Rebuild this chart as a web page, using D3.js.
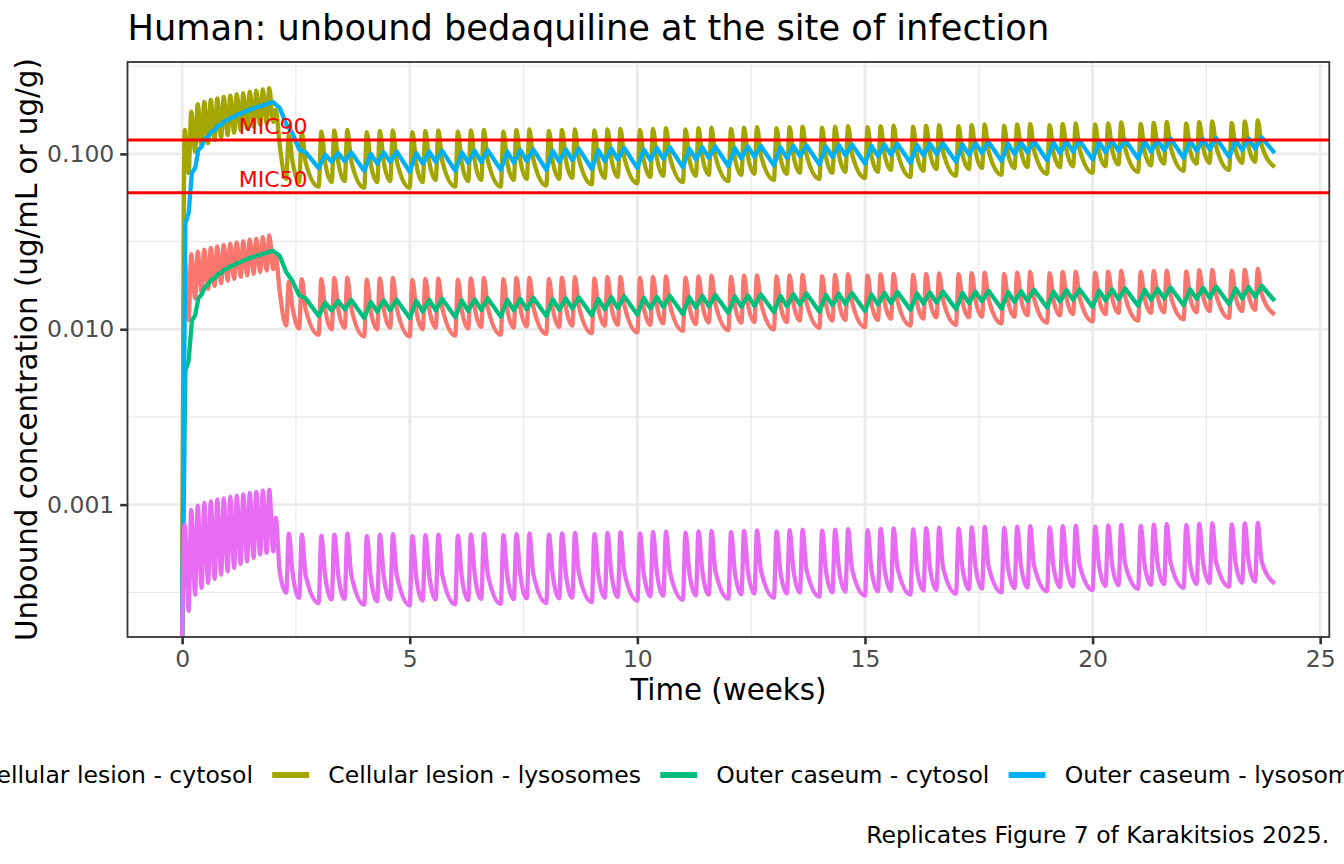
<!DOCTYPE html>
<html><head><meta charset="utf-8">
<script src="https://cdn.jsdelivr.net/npm/d3@7"></script>
<style>
body{margin:0;background:#fff;overflow:hidden}
svg{display:block}
text{font-family:"DejaVu Sans",sans-serif}
</style>
</head><body>
<svg id="chart" width="1344" height="864"></svg>
<script>
// ---------------- DATA ----------------
const seriesNames = ["Cellular lesion - cytosol","Cellular lesion - lysosomes","Outer caseum - cytosol","Outer caseum - lysosomes","Plasma"];
const seriesColors = ["#F8766D","#A3A500","#00BF7D","#00B0F6","#E76BF3"];
const xTickValues = [0,5,10,15,20,25];
const yTickValues = [0.001,0.01,0.1];
const micValues = [0.12, 0.06];
const micLabels = ["MIC90","MIC50"];
const micLabelWeek = 2;
const endDay = 168;
// dosing days: 14 daily loading doses, then Mon/Wed/Fri
const doseDays = [0,1,2,3,4,5,6,7,8,9,10,11,12,13,
 14,16,18, 21,23,25, 28,30,32, 35,37,39, 42,44,46, 49,51,53, 56,58,60, 63,65,67,
 70,72,74, 77,79,81, 84,86,88, 91,93,95, 98,100,102, 105,107,109, 112,114,116,
 119,121,123, 126,128,130, 133,135,137, 140,142,144, 147,149,151, 154,156,158, 161,163,165];
const loadingDoses = 14;
const peakLagFast = 0.4;   // days after dose (cytosol / lysosome / plasma)
const peakLagSlow = 1.0;   // days after dose (outer caseum, maintenance)
const peakLagLoad = 0.5;   // outer caseum during loading
const kneeLag = 1.0;

// Cellular lesion - cytosol
const rdTrough = [0,0.0113,0.0150,0.0162,0.0170,0.0177,0.0183,0.0189,0.0194,0.0199,0.0203,0.0207,0.0212,0.0216,
 0.0220,0.0105,0.0101, 0.0093,0.0100,0.0102, 0.0091,0.0100,0.0102, 0.0091,0.0100,0.0102,
 0.0092,0.0101,0.0103, 0.0093,0.0102,0.0104, 0.0094,0.0103,0.0105, 0.0095,0.0105,0.0106,
 0.0096,0.0106,0.0108, 0.0098,0.0107,0.0109, 0.0099,0.0109,0.0110, 0.0100,0.0110,0.0112,
 0.0102,0.0112,0.0113, 0.0103,0.0113,0.0115, 0.0105,0.0115,0.0117, 0.0106,0.0117,0.0118,
 0.0108,0.0118,0.0120, 0.0109,0.0120,0.0122, 0.0111,0.0122,0.0124, 0.0112,0.0124,0.0125,
 0.0114,0.0125,0.0127, 0.0116,0.0127,0.0129];
const rdPeak = [0.0245,0.0268,0.0277,0.0284,0.0290,0.0297,0.0303,0.0308,0.0313,0.0318,0.0324,0.0329,0.0335,0.0343,
 0.0262,0.0186,0.0193, 0.0193,0.0196,0.0197, 0.0192,0.0195,0.0196, 0.0191,0.0194,0.0195,
 0.0192,0.0195,0.0196, 0.0193,0.0196,0.0197, 0.0194,0.0197,0.0198, 0.0195,0.0198,0.0199,
 0.0196,0.0199,0.0200, 0.0197,0.0200,0.0202, 0.0199,0.0202,0.0203, 0.0200,0.0203,0.0204,
 0.0201,0.0204,0.0206, 0.0203,0.0206,0.0207, 0.0204,0.0207,0.0208, 0.0206,0.0209,0.0210,
 0.0207,0.0210,0.0212, 0.0209,0.0212,0.0213, 0.0210,0.0213,0.0215, 0.0212,0.0215,0.0216,
 0.0214,0.0217,0.0218, 0.0216,0.0219,0.0221];
const rdKnee = [0.0165,0.0131,0.0130, 0.0129,0.0131,0.0132, 0.0128,0.0131,0.0132, 0.0128,0.0131,0.0132,
 0.0129,0.0132,0.0133, 0.0130,0.0133,0.0134, 0.0131,0.0134,0.0135, 0.0132,0.0135,0.0137,
 0.0133,0.0137,0.0138, 0.0135,0.0138,0.0139, 0.0136,0.0139,0.0141, 0.0137,0.0141,0.0142,
 0.0139,0.0142,0.0144, 0.0140,0.0144,0.0145, 0.0142,0.0145,0.0147, 0.0143,0.0147,0.0149,
 0.0145,0.0149,0.0150, 0.0146,0.0150,0.0152, 0.0148,0.0152,0.0154, 0.0150,0.0154,0.0155,
 0.0151,0.0155,0.0157, 0.0153,0.0157,0.0159];
const rdEnd = 0.0121;

// Cellular lesion - lysosomes
const olTrough = [0,0.0776,0.103,0.110,0.115,0.120,0.124,0.128,0.132,0.136,0.139,0.143,0.146,0.149,
 0.152,0.072,0.069, 0.065,0.069,0.070, 0.064,0.069,0.070, 0.064,0.069,0.071,
 0.065,0.070,0.071, 0.065,0.071,0.072, 0.066,0.072,0.073, 0.067,0.073,0.074,
 0.068,0.074,0.075, 0.069,0.075,0.076, 0.070,0.076,0.077, 0.071,0.077,0.078,
 0.072,0.078,0.079, 0.073,0.079,0.081, 0.074,0.080,0.082, 0.075,0.082,0.083,
 0.076,0.083,0.084, 0.077,0.084,0.085, 0.078,0.085,0.087, 0.079,0.086,0.088,
 0.080,0.088,0.089, 0.081,0.089,0.090];
const olPeak = [0.137,0.174,0.192,0.198,0.203,0.207,0.211,0.215,0.219,0.222,0.226,0.229,0.233,0.237,
 0.178,0.128,0.133, 0.134,0.136,0.137, 0.133,0.135,0.136, 0.133,0.135,0.136,
 0.134,0.136,0.137, 0.134,0.137,0.138, 0.135,0.137,0.138, 0.136,0.138,0.139,
 0.137,0.139,0.140, 0.138,0.140,0.141, 0.139,0.141,0.142, 0.140,0.142,0.143,
 0.141,0.143,0.144, 0.142,0.144,0.145, 0.143,0.145,0.146, 0.144,0.146,0.147,
 0.145,0.147,0.148, 0.146,0.148,0.149, 0.147,0.149,0.151, 0.148,0.150,0.152,
 0.149,0.152,0.153, 0.150,0.153,0.155];
const olKnee = [0.112,0.089,0.089, 0.089,0.090,0.091, 0.088,0.090,0.091, 0.088,0.090,0.091,
 0.089,0.091,0.092, 0.089,0.092,0.093, 0.090,0.093,0.094, 0.091,0.094,0.095,
 0.092,0.095,0.096, 0.093,0.096,0.097, 0.094,0.097,0.098, 0.095,0.098,0.099,
 0.096,0.099,0.100, 0.097,0.100,0.102, 0.098,0.101,0.103, 0.099,0.103,0.104,
 0.100,0.104,0.105, 0.101,0.105,0.106, 0.102,0.106,0.108, 0.103,0.107,0.109,
 0.104,0.109,0.110, 0.105,0.110,0.112];
const olEnd = 0.084;

// Outer caseum - cytosol
const gnTrough = [0,0.0066,0.0120,0.0158,0.0180,0.0195,0.0209,0.0222,0.0232,0.0241,0.0250,0.0258,0.0265,0.0272,
 0.0280,0.0212,0.0156, 0.0119,0.0128,0.0130, 0.0116,0.0126,0.0128, 0.0116,0.0126,0.0128,
 0.0117,0.0127,0.0129, 0.0118,0.0128,0.0130, 0.0119,0.0129,0.0131, 0.0120,0.0130,0.0132,
 0.0121,0.0131,0.0134, 0.0122,0.0133,0.0135, 0.0124,0.0134,0.0136, 0.0125,0.0135,0.0138,
 0.0126,0.0137,0.0139, 0.0127,0.0138,0.0141, 0.0129,0.0140,0.0142, 0.0130,0.0141,0.0144,
 0.0131,0.0143,0.0145, 0.0133,0.0144,0.0147, 0.0134,0.0146,0.0148, 0.0136,0.0147,0.0150,
 0.0137,0.0149,0.0151, 0.0139,0.0150,0.0153];
const gnPeak = [0.0058,0.0112,0.0150,0.0174,0.0192,0.0206,0.0219,0.0230,0.0239,0.0248,0.0256,0.0264,0.0271,0.0278,
 0.0262,0.0187,0.0150, 0.0142,0.0145,0.0147, 0.0143,0.0146,0.0147, 0.0145,0.0147,0.0149,
 0.0146,0.0148,0.0150, 0.0147,0.0149,0.0151, 0.0148,0.0150,0.0152, 0.0149,0.0152,0.0154,
 0.0151,0.0153,0.0155, 0.0152,0.0155,0.0157, 0.0154,0.0156,0.0158, 0.0155,0.0158,0.0160,
 0.0157,0.0159,0.0161, 0.0158,0.0161,0.0163, 0.0160,0.0162,0.0164, 0.0161,0.0164,0.0166,
 0.0163,0.0165,0.0168, 0.0164,0.0167,0.0169, 0.0166,0.0169,0.0171, 0.0168,0.0170,0.0173,
 0.0169,0.0172,0.0175, 0.0171,0.0174,0.0177];
const gnEnd = 0.0145;

// Outer caseum - lysosomes
const blTrough = [0,0.046,0.083,0.110,0.125,0.136,0.146,0.155,0.162,0.169,0.175,0.181,0.186,0.191,
 0.197,0.148,0.106, 0.083,0.090,0.091, 0.080,0.088,0.090, 0.079,0.088,0.090,
 0.080,0.089,0.090, 0.081,0.089,0.091, 0.081,0.090,0.092, 0.082,0.091,0.093,
 0.083,0.092,0.094, 0.084,0.093,0.095, 0.085,0.094,0.096, 0.086,0.095,0.097,
 0.087,0.096,0.098, 0.088,0.097,0.099, 0.089,0.098,0.100, 0.090,0.099,0.101,
 0.091,0.100,0.102, 0.092,0.101,0.103, 0.093,0.102,0.104, 0.094,0.103,0.105,
 0.095,0.104,0.106, 0.096,0.105,0.107];
const blPeak = [0.040,0.078,0.105,0.122,0.134,0.145,0.154,0.161,0.168,0.174,0.180,0.185,0.190,0.196,
 0.183,0.130,0.102, 0.099,0.101,0.102, 0.100,0.102,0.103, 0.101,0.103,0.104,
 0.102,0.104,0.105, 0.103,0.105,0.106, 0.104,0.106,0.107, 0.105,0.107,0.108,
 0.106,0.108,0.109, 0.107,0.109,0.110, 0.108,0.110,0.111, 0.109,0.111,0.112,
 0.110,0.112,0.113, 0.111,0.113,0.114, 0.112,0.114,0.115, 0.113,0.115,0.117,
 0.114,0.116,0.118, 0.116,0.118,0.119, 0.117,0.119,0.120, 0.118,0.120,0.122,
 0.119,0.121,0.123, 0.120,0.122,0.124];
const blEnd = 0.101;

// Plasma
const pkTrough = [0,0.000248,0.000307,0.000335,0.000358,0.000377,0.000399,0.000417,0.000436,0.000459,0.000475,0.000497,0.000519,0.000531,
 0.000542,0.000314,0.000294, 0.000275,0.000288,0.000290, 0.000269,0.000281,0.000288, 0.000267,0.000284,0.000288,
 0.000270,0.000286,0.000290, 0.000272,0.000289,0.000292, 0.000275,0.000292,0.000295, 0.000278,0.000295,0.000298,
 0.000283,0.000300,0.000303, 0.000287,0.000304,0.000307, 0.000291,0.000308,0.000311, 0.000295,0.000312,0.000315,
 0.000299,0.000316,0.000319, 0.000303,0.000320,0.000323, 0.000307,0.000324,0.000327, 0.000311,0.000329,0.000332,
 0.000316,0.000334,0.000337, 0.000321,0.000339,0.000342, 0.000326,0.000344,0.000347, 0.000331,0.000349,0.000352,
 0.000336,0.000354,0.000358, 0.000341,0.000359,0.000364];
const pkPeak = [0.000769,0.000937,0.000987,0.001022,0.001044,0.001068,0.001086,0.001106,0.001125,0.001145,0.001166,0.001182,0.001202,0.001218,
 0.000840,0.000684,0.000675, 0.000666,0.000675,0.000684, 0.000662,0.000675,0.000678, 0.000662,0.000670,0.000675,
 0.000665,0.000675,0.000680, 0.000670,0.000680,0.000685, 0.000675,0.000686,0.000690, 0.000680,0.000691,0.000696,
 0.000686,0.000697,0.000702, 0.000692,0.000703,0.000708, 0.000698,0.000709,0.000714, 0.000704,0.000715,0.000720,
 0.000710,0.000721,0.000726, 0.000716,0.000727,0.000732, 0.000722,0.000734,0.000739, 0.000729,0.000741,0.000746,
 0.000736,0.000748,0.000753, 0.000743,0.000755,0.000760, 0.000750,0.000762,0.000767, 0.000757,0.000769,0.000774,
 0.000764,0.000776,0.000781, 0.000771,0.000783,0.000788];
const pkKnee = [0.000420,0.000405,0.000395, 0.000390,0.000398,0.000400, 0.000386,0.000394,0.000397, 0.000385,0.000394,0.000397,
 0.000388,0.000397,0.000400, 0.000391,0.000400,0.000403, 0.000395,0.000404,0.000407, 0.000399,0.000408,0.000411,
 0.000403,0.000412,0.000415, 0.000407,0.000416,0.000419, 0.000411,0.000420,0.000423, 0.000415,0.000424,0.000427,
 0.000419,0.000428,0.000431, 0.000423,0.000432,0.000435, 0.000427,0.000436,0.000440, 0.000432,0.000441,0.000445,
 0.000437,0.000446,0.000450, 0.000442,0.000451,0.000455, 0.000447,0.000456,0.000460, 0.000452,0.000461,0.000465,
 0.000457,0.000466,0.000470, 0.000462,0.000471,0.000475];
const pkEnd = 0.000355;

const titleText = "Human: unbound bedaquiline at the site of infection";
const xTitle = "Time (weeks)";
const yTitle = "Unbound concentration (ug/mL or ug/g)";
const captionText = "Replicates Figure 7 of Karakitsios 2025.";

// ---------------- BUILD ----------------
function buildPoints(trough, peak, knee, lagLoad, lagMaint, endVal){
  const pts = [];
  doseDays.forEach((d,i)=>{
    pts.push([d/7, trough[i]]);
    const lag = i < loadingDoses ? lagLoad : lagMaint;
    pts.push([(d+lag)/7, peak[i]]);
    if (knee && i >= loadingDoses) pts.push([(d+kneeLag)/7, knee[i-loadingDoses]]);
  });
  pts.push([endDay/7, endVal]);
  return pts;
}
const series = [
  {name:seriesNames[0], color:seriesColors[0], pts:buildPoints(rdTrough, rdPeak, rdKnee, peakLagFast, peakLagFast, rdEnd), curve:d3.curveMonotoneX},
  {name:seriesNames[1], color:seriesColors[1], pts:buildPoints(olTrough, olPeak, olKnee, peakLagFast, peakLagFast, olEnd), curve:d3.curveMonotoneX},
  {name:seriesNames[2], color:seriesColors[2], pts:buildPoints(gnTrough, gnPeak, null, peakLagLoad, peakLagSlow, gnEnd), curve:d3.curveLinear},
  {name:seriesNames[3], color:seriesColors[3], pts:buildPoints(blTrough, blPeak, null, peakLagLoad, peakLagSlow, blEnd), curve:d3.curveLinear},
  {name:seriesNames[4], color:seriesColors[4], pts:buildPoints(pkTrough, pkPeak, pkKnee, peakLagFast, peakLagFast, pkEnd), curve:d3.curveMonotoneX}
];

const W = 1344, H = 864;
const P = {x0:127.5, x1:1329.3, y0:62, y1:637};
const svg = d3.select("#chart");

const allPos = series.flatMap(s=>s.pts.map(p=>p[1])).filter(v=>v>0);
const lo = Math.log10(d3.min(allPos)), hi = Math.log10(d3.max(allPos));
const padY = (hi-lo)*0.05;
const y = d3.scaleLog().domain([Math.pow(10,lo-padY), Math.pow(10,hi+padY)]).range([P.y1,P.y0]).clamp(true);
const xMax = d3.max(series.flatMap(s=>s.pts.map(p=>p[0])));
const x = d3.scaleLinear().domain([-xMax*0.05, xMax*1.05]).range([P.x0,P.x1]);

// panel background
svg.append("rect").attr("x",P.x0).attr("y",P.y0).attr("width",P.x1-P.x0).attr("height",P.y1-P.y0).attr("fill","#fff");

// grid
const gGrid = svg.append("g");
const yMinor = [-4,-3,-2,-1].map(k=>Math.pow(10,k+0.5)).filter(v=>v>=y.domain()[0] && v<=y.domain()[1]);
const xMinor = xTickValues.slice(0,-1).map((v,i)=>(v+xTickValues[i+1])/2);
gGrid.selectAll(".ym").data(yMinor).join("line").attr("x1",P.x0).attr("x2",P.x1)
  .attr("y1",d=>y(d)).attr("y2",d=>y(d)).attr("stroke","#EBEBEB").attr("stroke-width",1.4);
gGrid.selectAll(".xm").data(xMinor).join("line").attr("y1",P.y0).attr("y2",P.y1)
  .attr("x1",d=>x(d)).attr("x2",d=>x(d)).attr("stroke","#EBEBEB").attr("stroke-width",1.4);
gGrid.selectAll(".yM").data(yTickValues).join("line").attr("x1",P.x0).attr("x2",P.x1)
  .attr("y1",d=>y(d)).attr("y2",d=>y(d)).attr("stroke","#EBEBEB").attr("stroke-width",2.8);
gGrid.selectAll(".xM").data(xTickValues).join("line").attr("y1",P.y0).attr("y2",P.y1)
  .attr("x1",d=>x(d)).attr("x2",d=>x(d)).attr("stroke","#EBEBEB").attr("stroke-width",2.8);

// clip
svg.append("clipPath").attr("id","clip").append("rect")
  .attr("x",P.x0).attr("y",P.y0).attr("width",P.x1-P.x0).attr("height",P.y1-P.y0);
const gData = svg.append("g").attr("clip-path","url(#clip)");

series.forEach(s=>{
  const line = d3.line().x(d=>x(d[0])).y(d=>y(d[1])).curve(s.curve);
  gData.append("path").datum(s.pts).attr("d",line).attr("fill","none")
    .attr("stroke",s.color).attr("stroke-width",4.3).attr("stroke-linejoin","round").attr("stroke-linecap","butt");
});

// MIC lines and labels
gData.selectAll(".mic").data(micValues).join("line").attr("x1",P.x0).attr("x2",P.x1)
  .attr("y1",d=>y(d)).attr("y2",d=>y(d)).attr("stroke","#FF0000").attr("stroke-width",2.9);
svg.selectAll(".micl").data(micValues).join("text")
  .attr("x",x(micLabelWeek)).attr("y",d=>y(d)-5.5).attr("text-anchor","middle")
  .attr("font-size",22).attr("fill","#FF0000").text((d,i)=>micLabels[i]);

// panel border
svg.append("rect").attr("x",P.x0).attr("y",P.y0).attr("width",P.x1-P.x0).attr("height",P.y1-P.y0)
  .attr("fill","none").attr("stroke","#333333").attr("stroke-width",1.8);

// axes
const fmt = d3.format(".3f");
const ax = svg.append("g").attr("transform",`translate(0,${P.y1})`)
  .call(d3.axisBottom(x).tickValues(xTickValues).tickSize(7.3).tickPadding(5.9).tickFormat(d3.format("d")));
const ay = svg.append("g").attr("transform",`translate(${P.x0},0)`)
  .call(d3.axisLeft(y).tickValues(yTickValues).tickSize(7.3).tickPadding(5.9).tickFormat(fmt));
[ax,ay].forEach(g=>{
  g.select(".domain").remove();
  g.selectAll(".tick line").attr("stroke","#333333").attr("stroke-width",2.6);
  g.selectAll(".tick text").attr("fill","#4D4D4D").attr("font-size",23.5).attr("font-family","DejaVu Sans");
});

// titles
svg.append("text").attr("x",P.x0).attr("y",40).attr("font-size",35.2).attr("fill","#000").text(titleText);
svg.append("text").attr("x",(P.x0+P.x1)/2).attr("y",700).attr("text-anchor","middle").attr("font-size",29.3).text(xTitle);
svg.append("text").attr("transform",`translate(37,${(P.y0+P.y1)/2}) rotate(-90)`).attr("text-anchor","middle").attr("font-size",29.3).text(yTitle);

// legend (wider than the page, centred on the panel as in the reference)
const keyW = 46, gapKT = 14.7, gapItems = 14.7, legY = 775;
const gLeg = svg.append("g");
const items = gLeg.selectAll("g").data(series).join("g");
items.append("text").attr("font-size",23.5).attr("dy","0.35em").attr("y",legY).text(d=>d.name);
let widths = [];
items.select("text").each(function(){ widths.push(this.getComputedTextLength()); });
const total = d3.sum(widths) + series.length*(keyW+gapKT) + (series.length-1)*gapItems;
let cx = (P.x0+P.x1)/2 - total/2;
items.each(function(d,i){
  const g = d3.select(this);
  g.insert("line","text").attr("x1",cx+keyW*0.1).attr("x2",cx+keyW*0.9).attr("y1",legY).attr("y2",legY)
    .attr("stroke",d.color).attr("stroke-width",6);
  g.select("text").attr("x",cx+keyW+gapKT);
  cx += keyW+gapKT+widths[i]+gapItems;
});

// caption
svg.append("text").attr("x",W-14.7).attr("y",843).attr("text-anchor","end").attr("font-size",23.5).text(captionText);
</script>
</body></html>
